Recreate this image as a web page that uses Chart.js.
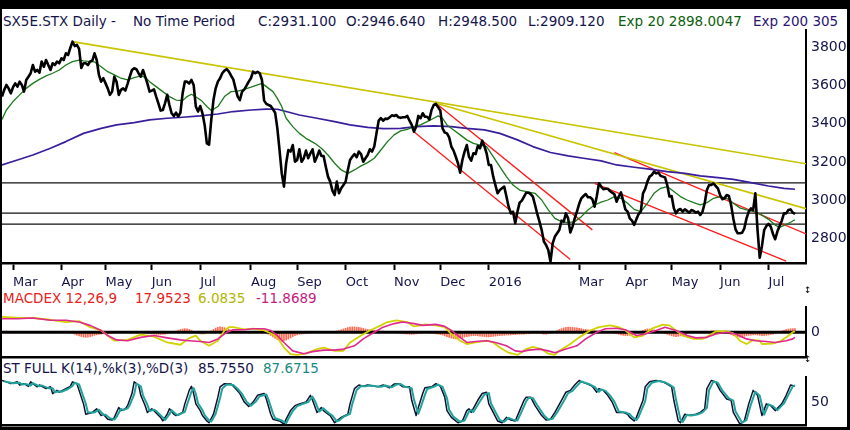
<!DOCTYPE html>
<html><head><meta charset="utf-8">
<script src="https://cdn.jsdelivr.net/npm/chart.js@4.4.1/dist/chart.umd.min.js"></script>
<style>
body{margin:0;background:#fff;}
#wrap{position:relative;width:850px;height:430px;overflow:hidden;background:#fff;font-family:"DejaVu Sans",sans-serif;}
.t{position:absolute;white-space:nowrap;font-size:13.5px;line-height:16px;color:#14144a;}
canvas{position:absolute;left:0;}
.fr{position:absolute;background:#000;}
</style></head>
<body><div id="wrap">
<canvas id="main" width="850" height="261" style="top:29px"></canvas>
<canvas id="macd" width="850" height="54" style="top:306px"></canvas>
<canvas id="stoch" width="850" height="52" style="top:376px"></canvas>

<div class="t" style="left:3px;top:13px">SX5E.STX Daily -</div>
<div class="t" style="left:133px;top:13px">No Time Period</div>
<div class="t" style="left:258px;top:13px">C:2931.100</div>
<div class="t" style="left:346px;top:13px">O:2946.640</div>
<div class="t" style="left:438px;top:13px">H:2948.500</div>
<div class="t" style="left:528px;top:13px">L:2909.120</div>
<div class="t" style="left:618px;top:13px;color:#0b5e0b">Exp 20 2898.0047</div>
<div class="t" style="left:753px;top:13px;color:#2a1474">Exp 200 305</div>

<div class="t" style="left:3px;top:290px;color:#e8221a">MACDEX 12,26,9</div>
<div class="t" style="left:135px;top:290px;color:#e8221a">17.9523</div>
<div class="t" style="left:198px;top:290px;color:#b4b400">6.0835</div>
<div class="t" style="left:256px;top:290px;color:#c81a82">-11.8689</div>

<div class="t" style="left:3px;top:360px">ST FULL K(14),%k(3),%D(3)</div>
<div class="t" style="left:198px;top:360px">85.7550</div>
<div class="t" style="left:263px;top:360px;color:#1a8a80">87.6715</div>

<div class="t" style="left:804px;top:282px;font-size:9px;color:#000">↕</div>
<div class="t" style="left:804px;top:351px;font-size:9px;color:#000">↕</div>

<div class="fr" style="left:0;top:0;width:850px;height:9px"></div>
<div class="fr" style="left:0;top:0;width:2px;height:430px"></div>
<div class="fr" style="left:847px;top:0;width:3px;height:430px"></div>
<div class="fr" style="left:0;top:427px;width:850px;height:3px"></div>
</div>
<script>
// ---------- DATA ----------
// daily closes, one per trading day (index = trading day from late Feb 2015)
const closes = [
3541,3576,3602,3584,3558,3590,3610,3593,3619,3602,
3567,3628,3645,3663,3706,3671,3680,3666,3724,3697,
3732,3706,3680,3715,3706,3724,3715,3741,3732,3767,
3758,3795,3828,3805,3811,3790,3690,3715,3715,3706,
3724,3729,3767,3732,3654,3619,3637,3610,3584,3550,
3567,3645,3619,3550,3576,3584,3572,3607,3645,3680,
3689,3684,3663,3645,3680,3645,3610,3567,3572,3579,
3541,3506,3468,3471,3506,3550,3497,3454,3440,3457,
3436,3457,3558,3619,3619,3610,3628,3602,3489,3463,
3492,3454,3393,3297,3290,3419,3523,3584,3619,3637,
3663,3677,3684,3671,3650,3631,3584,3541,3523,3567,
3579,3598,3619,3637,3671,3663,3671,3663,3628,3520,
3503,3497,3492,3475,3457,3375,3262,3140,3071,3193,
3262,3254,3288,3201,3210,3266,3201,3219,3259,3219,
3245,3266,3201,3227,3259,3231,3231,3175,3123,3097,
3050,3027,3097,3036,3062,3079,3097,3158,3210,3227,
3241,3224,3254,3241,3201,3219,3236,3266,3254,3280,
3349,3415,3428,3415,3426,3424,3433,3443,3440,3445,
3433,3430,3433,3433,3440,3415,3393,3358,3384,3440,
3428,3454,3436,3436,3422,3471,3497,3503,3485,3468,
3375,3353,3349,3328,3280,3259,3227,3193,3144,3210,
3254,3288,3227,3206,3245,3241,3283,3271,3311,3283,
3245,3184,3184,3123,3079,3036,3053,3062,3071,3019,
2966,2931,2940,2880,2940,2987,2998,3019,3039,3039,
3032,3019,2975,2928,2888,2844,2784,2766,2740,2679,
2775,2810,2827,2844,2893,2888,2931,2905,2831,2862,
2905,2940,2980,3010,3022,3032,3015,3015,3005,2966,
3019,3088,3071,3057,3060,3060,3048,3039,3032,2992,
3019,3041,2998,2952,2940,2905,2893,2871,2900,2928,
2940,3036,3059,3097,3123,3132,3149,3140,3144,3127,
3123,3119,3079,3019,3022,2958,2931,2949,2954,2940,
2952,2944,2935,2949,2944,2935,2940,2923,2940,2984,
3053,3079,3079,3088,3074,3062,3027,3005,3010,3027,
3022,2975,2905,2848,2827,2827,2830,2853,2905,2940,
2957,2949,3036,2844,2700,2760,2844,2865,2876,2862,
2824,2796,2836,2865,2893,2931,2931,2949,2952,2935,2928];

const ema20Days = [0,2,5,8,11,14,17,20,23,26,29,32,35,37,40,42,45,48,51,54,57,60,63,65,67,70,73,76,79,82,84,86,89,91,93,95,98,101,104,107,110,113,116,118,120,123,125,127,129,132,135,138,142,145,148,151,154,157,160,163,166,169,172,175,178,181,184,187,190,193,196,198,200,202,205,208,211,214,217,220,223,226,229,232,235,238,242,245,248,251,254,257,260,263,266,269,272,275,278,281,284,287,290,293,296,299,302,305,308,311,314,317,320,323,326,329,332,335,338,342,345,348,351,353,355,358,360];
const ema20Vals = [3422,3471,3515,3550,3584,3610,3631,3649,3663,3680,3706,3724,3732,3728,3724,3722,3697,3671,3654,3637,3628,3640,3649,3642,3619,3593,3567,3541,3523,3520,3541,3553,3532,3515,3489,3468,3489,3541,3567,3570,3579,3590,3602,3610,3593,3567,3532,3489,3428,3384,3349,3323,3297,3271,3236,3193,3158,3140,3158,3179,3196,3219,3262,3306,3341,3362,3370,3384,3393,3410,3428,3440,3428,3393,3367,3341,3315,3297,3288,3280,3227,3175,3123,3079,3053,3045,3036,3001,2949,2905,2888,2883,2888,2914,2949,2975,2990,3001,3019,3010,2984,2952,2940,2984,3036,3062,3071,3045,3019,3001,2987,2975,2987,3010,3019,3010,2984,2960,2950,2940,2922,2900,2870,2858,2868,2885,2898];

const ema200Days = [0,7,14,22,29,37,45,52,60,67,75,82,90,98,105,113,120,125,129,135,143,151,158,166,173,181,188,196,204,211,219,226,234,241,249,257,264,272,279,287,294,302,310,317,325,332,340,348,355,360];
const ema200Vals = [3184,3210,3236,3271,3306,3349,3375,3393,3405,3419,3428,3433,3440,3450,3463,3471,3476,3475,3463,3445,3428,3410,3393,3380,3374,3375,3384,3388,3384,3375,3367,3349,3315,3280,3249,3231,3219,3205,3184,3172,3162,3149,3140,3127,3118,3109,3092,3074,3062,3057];

// trend lines: [startDay, startValue, endDay, endValue]
const yellowTrends = [[32,3828,365,3190],[197,3506,365,2956]];
const redTrends = [[187,3358,258,2690],[197,3506,268,2845],[278,3248,365,2824],[269,3088,356,2682]];
const supportLevels = [3090, 2932, 2875];

const priceTicks = [2800,3000,3200,3400,3600,3800];
const monthTickDays = [5,27,47,68,90,113,134,156,178,199,221,262,283,304,326,348];
const monthTickLabels = ['Mar','Apr','May','Jun','Jul','Aug','Sep','Oct','Nov','Dec','2016','Mar','Apr','May','Jun','Jul'];

// MACD
const macdDays = [0,7,14,22,29,35,40,45,48,51,57,63,69,75,81,85,88,90,94,98,101,103,105,110,114,119,122,125,128,131,134,138,143,146,151,155,158,163,167,172,175,179,184,187,190,192,197,201,204,208,211,215,220,223,226,230,234,238,241,245,248,251,253,258,262,267,271,276,280,283,287,291,295,300,303,306,309,314,318,321,324,329,332,335,338,341,344,345,350,353,356,359,360];
const macdVals = [60,57,56,49,40,44,20,7,-13,-33,-30,-9,-17,-40,-49,-23,-13,-33,-53,-33,7,20,20,11,14,7,-4,-20,-60,-86,-89,-84,-66,-60,-73,-73,-40,-13,7,27,40,47,40,23,27,31,27,20,-7,-33,-46,-40,-33,-40,-60,-80,-89,-66,-57,-66,-84,-89,-73,-46,-20,7,20,27,20,7,-20,-13,14,30,27,7,-13,-26,-26,-13,3,4,-4,-33,-46,-30,-33,-46,-44,-37,-20,0,4];
const signalDays = [0,7,14,22,29,35,40,45,48,52,57,63,69,75,81,85,90,94,98,102,105,110,114,119,122,125,128,132,137,141,146,151,155,160,164,169,173,178,182,187,191,197,201,204,208,211,215,220,224,229,233,236,239,244,248,251,256,261,265,270,274,279,283,288,292,297,301,306,311,315,320,324,329,333,338,342,347,351,356,359,360];
const signalVals = [53,53,56,47,47,40,27,7,-13,-30,-33,-20,-13,-22,-30,-33,-36,-40,-26,0,10,10,14,14,7,-13,-40,-73,-84,-76,-70,-70,-66,-53,-26,0,20,34,40,34,27,31,23,7,-20,-40,-36,-33,-40,-53,-73,-76,-70,-66,-73,-80,-66,-53,-26,0,14,16,10,-13,-7,7,20,7,-13,-22,-20,-7,0,-7,-26,-33,-36,-40,-33,-26,-20];
const macdHist = [
3,4,5,4,3,2,3,4,3,2, 2,1,0,-1,-2,-1,0,1,2,1, 0,-1,-2,-2,-3,-2,-1,0,1,0,
-1,-3,-5,-8,-11,-14,-17,-19,-20,-19, -17,-15,-12,-10,-8,-7,-6,-6,-5,-5,
-4,-3,-2,-1,0,1,0,-1,-2,-3, -2,0,2,1,-1,-3,-5,-6,-7,-7, -8,-9,-9,-8,-7,-5,-3,-1,2,5,
8,11,13,14,13,11,8,4,0,-4, -6,-7,-6,-3,1,6,11,16,19,21, 20,18,15,12,9,7,6,5,5,4,
4,3,3,2,2,3,3,2,1,-1, -4,-8,-13,-18,-24,-29,-33,-35,-34,-31, -27,-22,-17,-13,-10,-8,-7,-6,-5,-4,
-3,-2,-1,0,1,2,2,1,0,1, 2,3,5,7,10,13,16,18,20,21, 21,20,19,17,15,13,11,10,9,8,
7,6,5,5,4,3,2,1,0,-2, -3,-4,-5,-6,-7,-8,-8,-7,-6,-5, -4,-3,-2,-2,-3,-4,-5,-6,-7,-9,
-11,-14,-17,-20,-23,-25,-26,-25,-23,-21, -19,-17,-15,-14,-13,-13,-14,-15,-16,-17,
-18,-18,-17,-16,-15,-14,-13,-12,-12,-11, -11,-10,-9,-9,-8,-8,-7,-7,-6,-6,
-5,-5,-4,-4,-5,-6,-7,-7,-6,-4, -1,3,7,11,14,17,19,20,20,19, 18,17,15,14,12,11,10,9,8,7,
6,5,4,3,2,1,0,-2,-4,-6, -8,-10,-12,-13,-13,-12,-10,-7,-4,0, 4,8,11,13,13,12,10,7,4,1,
-2,-5,-8,-11,-14,-16,-17,-16,-14,-12, -9,-6,-3,-1,0,1,2,2,1,0, 1,3,5,6,6,5,4,2,0,-2,
-5,-9,-13,-16,-18,-19,-18,-16,-14,-12, -11,-10,-10,-11,-12,-13,-13,-12,-11,-9,
-7,-4,-1,2,5,8,11,13,14,14,14];
const macdZero = 0;

// Stochastic
const stochKDays = [0,2,4,7,8,10,12,13,16,17,20,22,23,25,26,29,31,32,34,35,37,38,41,43,45,46,48,50,51,53,54,56,57,59,60,62,63,65,66,68,69,72,73,75,76,78,79,82,83,85,86,87,88,90,91,93,94,96,98,99,101,104,106,108,110,112,114,116,119,120,122,123,126,128,129,131,133,135,138,140,141,143,145,146,148,149,151,152,154,157,158,160,162,164,166,169,171,173,176,178,180,182,185,186,188,189,191,192,195,197,199,201,202,204,207,209,211,212,213,216,218,220,221,223,225,227,229,231,233,235,237,238,240,242,245,247,249,251,254,256,258,260,262,263,266,268,270,271,273,275,277,279,282,284,285,287,288,291,292,294,297,300,302,304,305,307,308,310,312,315,317,319,320,322,324,326,329,331,332,335,337,339,341,343,345,347,349,351,354,356,358,360];
const stochKVals = [99,96,92,96,89,92,86,96,85,89,81,85,70,77,73,81,86,96,92,77,47,24,28,36,21,24,13,11,17,39,32,36,43,70,96,89,66,43,28,36,32,17,9,24,36,24,21,28,47,77,86,70,47,32,21,9,5,24,62,85,92,91,81,70,51,41,51,66,70,58,24,13,9,2,13,32,43,47,51,66,55,28,39,32,24,21,5,9,17,24,47,81,89,86,89,86,85,89,83,91,92,85,85,55,21,39,70,83,85,92,86,62,32,17,5,9,32,36,28,55,70,73,47,28,9,5,17,11,9,32,55,62,62,43,21,11,13,28,55,73,77,89,99,96,91,86,73,81,77,66,51,28,28,24,17,9,17,55,85,96,99,96,91,85,55,9,5,24,21,24,28,36,81,99,96,77,58,55,28,2,9,47,77,66,21,47,43,32,47,66,89,86];
const stochDDays = [1,3,5,8,9,11,13,14,17,18,21,23,24,26,27,30,32,33,35,36,38,39,42,44,46,47,49,51,52,54,55,57,58,60,61,63,64,66,67,69,70,73,74,76,77,79,80,83,84,86,87,88,89,91,92,94,95,97,99,100,102,105,107,109,111,113,115,117,120,121,123,124,127,129,130,132,134,136,139,141,142,144,146,147,149,150,152,153,155,158,159,161,163,165,167,170,172,174,177,179,181,183,186,187,189,190,192,193,196,198,200,202,203,205,208,210,212,213,214,217,219,221,222,224,226,228,230,232,234,236,238,239,241,243,246,248,250,252,255,257,259,261,263,264,267,269,271,272,274,276,278,280,283,285,286,288,289,292,293,295,298,301,303,305,306,308,309,311,313,316,318,320,321,323,325,327,330,332,333,336,338,340,342,344,346,348,350,352,355,357,359,360];
const stochDVals = [97,95,93,94,90,91,88,93,86,88,82,82,73,75,74,80,87,94,90,76,48,28,28,34,23,23,15,12,18,36,33,37,44,68,92,86,66,45,31,34,31,17,11,24,33,24,22,29,45,74,82,69,48,33,22,10,8,25,60,81,90,89,80,69,52,43,51,64,68,56,26,15,10,4,14,31,42,46,51,63,54,30,37,32,24,21,8,10,18,25,46,78,87,86,88,86,85,88,84,90,91,85,82,57,25,38,67,80,85,90,85,60,34,18,7,10,30,34,29,53,68,71,48,29,11,7,16,12,10,31,53,60,60,44,22,12,14,28,53,71,76,87,97,95,90,85,74,79,76,66,52,30,28,24,18,11,18,53,82,94,98,95,90,83,56,12,7,23,21,24,28,38,78,97,94,77,59,54,30,5,11,46,74,65,23,46,42,33,48,67,86,88];
const stochTicks = [50];
const macdTicks = [0];

// ---------- RENDER ----------
const NAVY = '#14144a';
Chart.defaults.font.family = '"DejaVu Sans", sans-serif';
Chart.defaults.color = NAVY;
const X_MIN = 0, X_MAX = 365;

const pairs = (days, vals) => days.map((d, i) => ({x: d, y: vals[i]}));
const seg = (a) => [{x: a[0], y: a[1]}, {x: a[2], y: a[3]}];
const lineDs = (data, color, width) => ({type: 'line', data, borderColor: color, borderWidth: width, pointRadius: 0, fill: false, tension: 0, borderJoinStyle: 'round'});
const zeroPad = s => { s.paddingLeft = 0; s.paddingRight = 0; s.paddingTop = 0; s.paddingBottom = 0; };
const yAxis = (min, max, ticks) => ({
  position: 'right', min, max,
  afterBuildTicks: s => { s.ticks = ticks.map(v => ({value: v})); },
  afterFit: s => { s.width = 44; zeroPad(s); },
  ticks: {color: NAVY, font: {size: 14}, padding: 5, callback: v => String(v)},
  grid: {display: false, drawTicks: false},
  border: {display: true, color: '#000', width: 2}
});
const hiddenX = {
  type: 'linear', min: X_MIN, max: X_MAX, offset: false,
  afterFit: s => { s.height = 3; zeroPad(s); },
  ticks: {display: false},
  grid: {display: false, drawTicks: false},
  border: {display: true, color: '#000', width: 2.5}
};
const baseOpts = {
  responsive: false, animation: false, events: [],
  layout: {padding: {left: 2, right: 0, top: 0, bottom: 0}},
  plugins: {legend: {display: false}, tooltip: {enabled: false}},
};

// main price panel
const mainSets = [
  lineDs(closes.map((v, i) => ({x: i, y: v})), '#000', 2.6),
  lineDs(pairs(ema20Days, ema20Vals), '#1c7a1c', 1.3),
  lineDs(pairs(ema200Days, ema200Vals), '#3a1e9c', 1.7),
];
yellowTrends.forEach(t => mainSets.push(lineDs(seg(t), '#c9c400', 1.6)));
redTrends.forEach(t => mainSets.push(lineDs(seg(t), '#ff1a1a', 1.3)));
supportLevels.forEach(v => mainSets.push(lineDs([{x: X_MIN, y: v}, {x: X_MAX, y: v}], '#111', 1.3)));

new Chart(document.getElementById('main'), {
  type: 'line',
  data: {datasets: mainSets},
  options: Object.assign({}, baseOpts, {
    scales: {
      x: {
        type: 'linear', min: X_MIN, max: X_MAX, offset: false,
        afterBuildTicks: s => { s.ticks = monthTickDays.map(v => ({value: v})); },
        afterFit: s => { s.height = 27; zeroPad(s); },
        ticks: {autoSkip: false, maxRotation: 0, minRotation: 0, align: 'start', padding: 5, color: NAVY,
                font: {size: 13}, callback: (v, i) => monthTickLabels[i]},
        grid: {display: true, drawOnChartArea: false, drawTicks: true, tickLength: 7, tickColor: '#000', tickWidth: 2, color: '#000'},
        border: {display: true, color: '#000', width: 2.5}
      },
      y: yAxis(2672, 3894, priceTicks)
    }
  })
});

// MACD panel
new Chart(document.getElementById('macd'), {
  type: 'bar',
  data: {datasets: [
    lineDs(pairs(signalDays, signalVals), '#e0288e', 1.6),
    lineDs(pairs(macdDays, macdVals), '#d2d200', 1.8),
    lineDs([{x: X_MIN, y: macdZero}, {x: X_MAX, y: macdZero}], '#000', 3),
    {type: 'bar', data: macdHist.map((v, i) => ({x: i, y: v})), backgroundColor: 'rgba(255,80,50,0.85)', borderWidth: 0, barThickness: 1}
  ]},
  options: Object.assign({}, baseOpts, {
    scales: {x: hiddenX, y: yAxis(-97, 103, macdTicks)}
  })
});

// Stochastic panel
new Chart(document.getElementById('stoch'), {
  type: 'line',
  data: {datasets: [
    lineDs(pairs(stochDDays, stochDVals), '#1fa39a', 2),
    lineDs(pairs(stochKDays, stochKVals), '#101030', 1.5)
  ]},
  options: Object.assign({}, baseOpts, {
    scales: {x: hiddenX, y: yAxis(0, 109, stochTicks)}
  })
});
</script>
</body></html>
